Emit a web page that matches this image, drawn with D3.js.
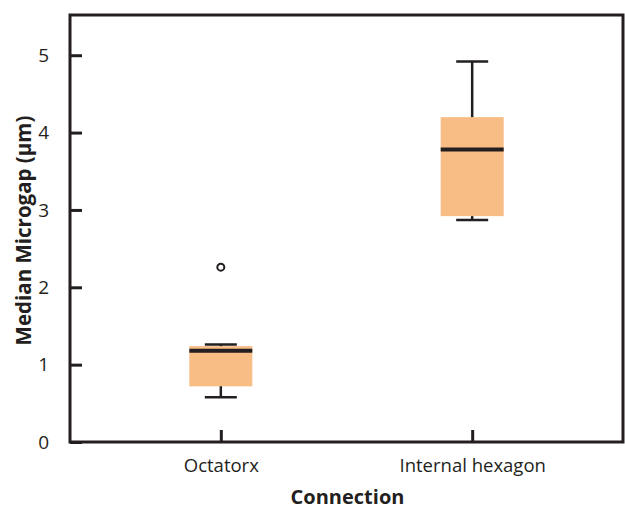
<!DOCTYPE html>
<html>
<head>
<meta charset="utf-8">
<script src="https://cdn.jsdelivr.net/npm/d3@7"></script>
<style>
  body { margin: 0; background: #fff; }
  text { font-family: "Open Sans", "Noto Sans", sans-serif; fill: #231f20; }
</style>
</head>
<body>
<div class="chart"></div>
<script>
var categories = ['Octatorx', 'Internal hexagon'];
var lowWhisker = [0.58, 2.87];
var q1 = [0.72, 2.92];
var median = [1.18, 3.78];
var q3 = [1.24, 4.2];
var highWhisker = [1.26, 4.92];
var outliers = [[2.26], []];
var yTicks = [0, 1, 2, 3, 4, 5];

var margin = { top: 15, right: 2, bottom: 69, left: 70 };
var width = 625 - margin.left - margin.right;
var height = 511 - margin.top - margin.bottom;
var ink = '#231f20';

var svg = d3.select('.chart')
  .append('svg')
    .attr('width', 625)
    .attr('height', 511)
  .append('g')
    .attr('transform', `translate(${margin.left}, ${margin.top})`);

var yScale = d3.scaleLinear()
  .domain([0, 5.52])
  .range([height, 0]);

var xScale = d3.scalePoint()
  .domain(categories)
  .range([0, width])
  .padding(0.6);

var boxW = 63, capW = 32;

var data = categories.map((c, i) => ({
  name: c, lo: lowWhisker[i], q1: q1[i], med: median[i], q3: q3[i], hi: highWhisker[i], out: outliers[i]
}));

var g = svg.selectAll('.box')
  .data(data)
  .enter()
  .append('g')
    .attr('class', 'box')
    .attr('transform', d => `translate(${xScale(d.name)}, 0)`);

// whiskers
g.append('line')
  .attr('y1', d => yScale(d.lo)).attr('y2', d => yScale(d.hi))
  .attr('stroke', ink).attr('stroke-width', 2.5);
g.append('line')
  .attr('x1', -capW / 2).attr('x2', capW / 2)
  .attr('y1', d => yScale(d.hi)).attr('y2', d => yScale(d.hi))
  .attr('stroke', ink).attr('stroke-width', 2.5);
g.append('line')
  .attr('x1', -capW / 2).attr('x2', capW / 2)
  .attr('y1', d => yScale(d.lo)).attr('y2', d => yScale(d.lo))
  .attr('stroke', ink).attr('stroke-width', 2.5);

// box
g.append('rect')
  .attr('x', -boxW / 2)
  .attr('width', boxW)
  .attr('y', d => yScale(d.q3))
  .attr('height', d => yScale(d.q1) - yScale(d.q3))
  .attr('fill', '#f8bd85');

// median
g.append('line')
  .attr('x1', -boxW / 2).attr('x2', boxW / 2)
  .attr('y1', d => yScale(d.med)).attr('y2', d => yScale(d.med))
  .attr('stroke', ink).attr('stroke-width', 4);

// outliers
g.selectAll('circle')
  .data(d => d.out)
  .enter()
  .append('circle')
  .attr('r', 3.5)
  .attr('cy', v => yScale(v))
  .attr('fill', 'none')
  .attr('stroke', ink)
  .attr('stroke-width', 2);

// frame
svg.append('rect')
  .attr('width', width)
  .attr('height', height)
  .attr('fill', 'none')
  .attr('stroke', ink)
  .attr('stroke-width', 3);

var yAxis = d3.axisLeft(yScale)
  .tickValues(yTicks)
  .tickFormat(d3.format('d'))
  .tickSizeInner(-12)
  .tickSizeOuter(0)
  .tickPadding(21);

svg.append('g')
  .call(yAxis)
  .call(a => a.select('.domain').remove())
  .call(a => a.selectAll('line').attr('stroke', ink).attr('stroke-width', 3))
  .call(a => a.selectAll('text').style('font-size', '19px').style('font-family', '"Open Sans", sans-serif').attr('fill', ink));

var xAxis = d3.axisBottom(xScale)
  .tickSizeInner(-12)
  .tickSizeOuter(0)
  .tickPadding(17);

svg.append('g')
  .attr('transform', `translate(0, ${height})`)
  .call(xAxis)
  .call(a => a.select('.domain').remove())
  .call(a => a.selectAll('line').attr('stroke', ink).attr('stroke-width', 3))
  .call(a => a.selectAll('text').style('font-size', '18.5px').style('font-family', '"Open Sans", sans-serif').attr('fill', ink));

svg.append('text')
  .attr('transform', `translate(-39, ${height / 2 + 2}) rotate(-90)`)
  .attr('text-anchor', 'middle')
  .style('font-size', '20.5px')
  .style('font-weight', 'bold')
  .text('Median Microgap (µm)');

svg.append('text')
  .attr('x', width / 2 + 1)
  .attr('y', height + 62)
  .attr('text-anchor', 'middle')
  .style('font-size', '20px')
  .style('font-weight', 'bold')
  .text('Connection');
</script>
</body>
</html>
